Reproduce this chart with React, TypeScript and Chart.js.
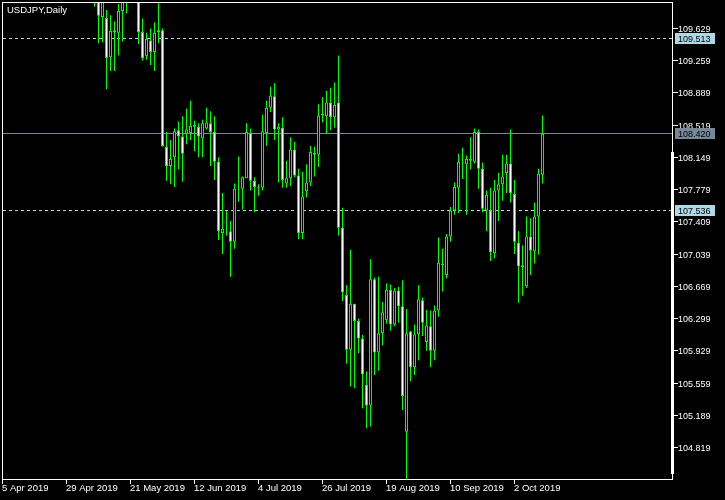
import React, { useEffect, useRef } from 'react';
import { Chart, registerables } from 'chart.js';

Chart.register(...registerables);

const CHART_TITLE = 'USDJPY,Daily';

// bar index of first candle (bar 0 = 5 Apr 2019)
const FIRST_BAR = 23;

const opens = [
  110.25, 110.08, 109.76, 109.75, 109.30, 109.59, 109.58, 109.83, 110.05, 110.15,
  110.50, 110.35, 109.59, 109.31, 109.49, 109.36, 109.59, 109.61, 108.27, 108.05,
  108.15, 108.46, 108.39, 108.42, 108.43, 108.50, 108.50, 108.37, 108.48, 108.54,
  108.44, 108.10, 107.28, 107.30, 107.30, 107.18, 107.79, 107.79, 107.91, 108.43,
  107.88, 107.81, 107.80, 108.43, 108.72, 108.85, 108.47, 108.49, 107.85, 107.91,
  108.24, 107.94, 107.28, 107.76, 107.86, 108.20, 108.18, 108.63, 108.62, 108.78,
  108.61, 108.78, 107.34, 106.57, 105.94, 106.47, 106.27, 106.07, 105.54, 105.30,
  106.75, 105.91, 106.13, 106.28, 106.63, 106.23, 106.62, 106.44, 105.00, 106.15,
  105.74, 106.12, 106.51, 106.03, 106.21, 105.93, 106.39, 106.93, 106.80, 107.24,
  107.54, 107.80, 108.09, 108.07, 108.13, 108.10, 108.44, 108.02, 107.54, 107.54,
  107.05, 107.77, 107.84, 107.97, 108.08, 107.73, 107.17, 106.91, 106.67, 107.24,
  107.07, 107.47, 107.95,
];

const highs = [
  110.45, 110.15, 110.10, 109.84, 109.78, 109.71, 109.91, 110.20, 110.35, 110.65,
  110.62, 110.40, 109.74, 109.58, 109.63, 109.70, 109.92, 109.63, 108.44, 108.35,
  108.48, 108.56, 108.62, 108.71, 108.80, 108.57, 108.54, 108.58, 108.72, 108.68,
  108.62, 108.15, 107.74, 107.53, 107.42, 107.85, 108.16, 107.93, 108.54, 108.48,
  107.92, 107.84, 108.64, 108.80, 108.96, 109.00, 108.54, 108.61, 108.11, 108.38,
  108.33, 108.02, 107.98, 108.07, 108.28, 108.27, 108.76, 108.84, 108.91, 108.95,
  109.01, 109.32, 107.57, 106.68, 107.09, 106.47, 106.30, 106.11, 105.69, 106.98,
  106.77, 106.78, 106.49, 106.70, 106.69, 106.65, 106.66, 106.74, 106.41, 106.16,
  106.23, 106.68, 106.54, 106.40, 106.39, 106.45, 107.23, 107.10, 107.27, 107.58,
  107.86, 108.19, 108.26, 108.17, 108.38, 108.48, 108.47, 108.09, 107.77, 107.80,
  107.89, 107.97, 108.18, 108.18, 108.47, 107.89, 107.30, 107.14, 107.47, 107.45,
  107.63, 108.02, 108.63,
];

const lows = [
  109.88, 109.46, 109.47, 108.93, 109.14, 109.14, 109.32, 109.48, 109.80, 110.00,
  110.05, 109.45, 109.26, 109.27, 109.21, 109.14, 109.46, 108.27, 107.88, 107.84,
  107.81, 108.01, 107.87, 108.30, 108.35, 108.22, 108.15, 108.15, 108.47, 108.05,
  107.89, 107.20, 107.04, 107.25, 106.78, 107.10, 107.64, 107.55, 107.91, 107.77,
  107.52, 107.71, 107.77, 108.28, 108.67, 108.35, 107.86, 107.80, 107.80, 107.82,
  107.92, 107.21, 107.21, 107.69, 107.82, 107.93, 108.04, 108.55, 108.42, 108.46,
  108.49, 107.25, 106.50, 105.78, 105.52, 105.50, 105.90, 105.27, 105.04, 105.06,
  105.65, 105.70, 105.99, 106.24, 106.16, 106.21, 106.25, 105.25, 104.46, 105.58,
  105.65, 105.82, 106.10, 105.93, 105.74, 105.82, 106.32, 106.61, 106.76, 107.18,
  107.49, 107.51, 107.90, 107.49, 108.01, 108.08, 107.79, 107.52, 107.30, 106.96,
  106.99, 107.42, 107.65, 107.74, 107.63, 107.04, 106.48, 106.56, 106.65, 106.80,
  106.93, 107.03, 107.85,
];

const closes = [
  110.10, 109.775, 110.00, 109.29, 109.60, 109.61, 109.83, 110.05, 110.15, 110.50,
  110.35, 109.59, 109.29, 109.51, 109.36, 109.58, 109.61, 108.28, 108.05, 108.13,
  108.45, 108.39, 108.19, 108.47, 108.51, 108.52, 108.39, 108.54, 108.55, 108.44,
  108.10, 107.30, 107.33, 107.31, 107.18, 107.79, 107.78, 107.92, 108.44, 107.88,
  107.81, 107.80, 108.45, 108.72, 108.86, 108.47, 108.50, 107.89, 107.91, 108.24,
  107.94, 107.28, 107.70, 107.86, 108.21, 108.18, 108.63, 108.65, 108.78, 108.61,
  108.75, 107.34, 106.60, 105.94, 106.47, 106.27, 106.07, 105.66, 105.30, 106.75,
  105.91, 106.13, 106.37, 106.63, 106.23, 106.62, 106.44, 105.41, 106.13, 105.74,
  106.12, 106.52, 106.25, 106.22, 105.93, 106.39, 106.94, 106.91, 107.24, 107.54,
  107.81, 108.10, 108.10, 108.13, 108.11, 108.44, 108.02, 107.56, 107.72, 107.06,
  107.77, 107.84, 107.93, 108.08, 107.74, 107.18, 106.90, 106.89, 107.24, 107.08,
  107.47, 107.96, 108.42,
];

const xTickBars = [0, 16, 32, 48, 64, 80, 96, 112, 128];
const xTickLabels = [
  '5 Apr 2019', '29 Apr 2019', '21 May 2019', '12 Jun 2019', '4 Jul 2019',
  '26 Jul 2019', '19 Aug 2019', '10 Sep 2019', '2 Oct 2019',
];

const yTickValues = [
  109.629, 109.259, 108.889, 108.519, 108.149, 107.779, 107.409,
  107.039, 106.669, 106.299, 105.929, 105.559, 105.189, 104.819,
];

const dashedLevels = [109.513, 107.536];
const bidLevel = 108.42;

const X_MIN = -0.125;
const X_MAX = 167.375;
const Y_MIN = 104.457;
const Y_MAX = 109.933;

const GREEN = '#00ff00';
const LIGHT_BLUE = '#add8e6';
const SLATE = '#778899';

const bars = opens.map((_, i) => FIRST_BAR + i);

const mtPlugin = {
  id: 'mt4',
  beforeDraw(chart: any) {
    const ctx = chart.ctx;
    ctx.save();
    ctx.fillStyle = '#000';
    ctx.fillRect(0, 0, chart.width, chart.height);
    ctx.restore();
  },
  beforeDatasetsDraw(chart: any) {
    const { ctx, chartArea: a } = chart;
    const y = chart.scales.y;
    ctx.save();
    const br = Math.floor(y.getPixelForValue(bidLevel));
    ctx.fillStyle = SLATE;
    ctx.fillRect(a.left, br, a.right - a.left, 1);
    ctx.fillStyle = LIGHT_BLUE;
    dashedLevels.forEach((lv) => {
      const r = Math.floor(y.getPixelForValue(lv));
      for (let x = a.left + 1; x < a.right; x += 6) {
        ctx.fillRect(x, r, Math.min(3, a.right - x), 1);
      }
    });
    ctx.restore();
  },
  afterDraw(chart: any) {
    const { ctx, chartArea: a } = chart;
    const xs = chart.scales.x;
    const ys = chart.scales.y;
    const L = Math.round(a.left);
    const R = Math.round(a.right);
    const T = Math.round(a.top);
    const B = Math.round(a.bottom);
    ctx.save();
    ctx.fillStyle = '#ffffff';
    ctx.fillRect(L, T, R - L + 1, 1);
    ctx.fillRect(L, T, 1, B - T + 1);
    ctx.fillRect(R, T, 1, B - T + 1);
    ctx.fillRect(L, B, R - L + 1, 1);
    ctx.fillRect(R - 1, 152, 3, 322);

    // y axis ticks + labels
    ctx.font = '9px "Liberation Sans", Arial, sans-serif';
    ctx.textBaseline = 'alphabetic';
    ctx.textAlign = 'left';
    yTickValues.forEach((v) => {
      const r = Math.floor(ys.getPixelForValue(v));
      ctx.fillStyle = '#ffffff';
      ctx.fillRect(R + 1, r, 5, 1);
      ctx.fillText(v.toFixed(3), R + 6, r + 4);
    });

    // x axis ticks + labels
    ctx.font = '9.5px "Liberation Sans", Arial, sans-serif';
    xTickBars.forEach((b, i) => {
      const c = Math.floor(xs.getPixelForValue(b));
      ctx.fillStyle = '#ffffff';
      ctx.fillRect(c, B + 1, 1, 4);
      ctx.fillText(xTickLabels[i], c, B + 12);
    });

    // price labels
    ctx.font = '9px "Liberation Sans", Arial, sans-serif';
    const box = (v: number, bg: string) => {
      const r = Math.floor(ys.getPixelForValue(v));
      ctx.fillStyle = bg;
      ctx.fillRect(R + 3, r - 5, 40, 11);
      ctx.fillStyle = '#000000';
      ctx.fillText(v.toFixed(3), R + 6, r + 4);
    };
    dashedLevels.forEach((lv) => box(lv, LIGHT_BLUE));
    box(bidLevel, SLATE);

    // title
    ctx.font = '9.5px "Liberation Sans", Arial, sans-serif';
    ctx.fillStyle = '#ffffff';
    ctx.fillText(CHART_TITLE, L + 5, T + 11);
    ctx.restore();
  },
};

export default function App() {
  const ref = useRef<HTMLCanvasElement>(null);
  useEffect(() => {
    document.body.style.margin = '0';
    document.body.style.background = '#000';
    const canvas = ref.current!;
    const chart = new Chart(canvas, {
      type: 'bar',
      data: {
        datasets: [
          {
            label: 'body',
            data: bars.map((b, i) => ({ x: b, y: [opens[i], closes[i]] })) as any,
            backgroundColor: closes.map((c, i) => (c < opens[i] ? '#ffffff' : '#000000')),
            borderColor: GREEN,
            borderWidth: 1,
            borderSkipped: false,
            barThickness: 3,
            grouped: false,
            inflateAmount: 0,
            clip: 0,
            order: 0,
          } as any,
          {
            label: 'wick',
            data: bars.map((b, i) => ({ x: b, y: [lows[i], highs[i]] })) as any,
            backgroundColor: GREEN,
            borderWidth: 0,
            barThickness: 1,
            grouped: false,
            inflateAmount: 0,
            clip: 0,
            order: 1,
          } as any,
        ],
      },
      options: {
        animation: false,
        responsive: false,
        devicePixelRatio: 1,
        events: [],
        layout: { padding: { left: 2, top: 2, right: 53, bottom: 21 } },
        plugins: { legend: { display: false }, tooltip: { enabled: false } },
        scales: {
          x: { type: 'linear', min: X_MIN, max: X_MAX, offset: false, display: false, grid: { offset: false } },
          y: { type: 'linear', min: Y_MIN, max: Y_MAX, display: false },
        },
      } as any,
      plugins: [mtPlugin],
    });
    return () => chart.destroy();
  }, []);
  return (
    <div style={{ position: 'fixed', left: 0, top: 0, width: 725, height: 500, background: '#000' }}>
      <canvas ref={ref} width={725} height={500} style={{ display: 'block', width: 725, height: 500 }} />
    </div>
  );
}
